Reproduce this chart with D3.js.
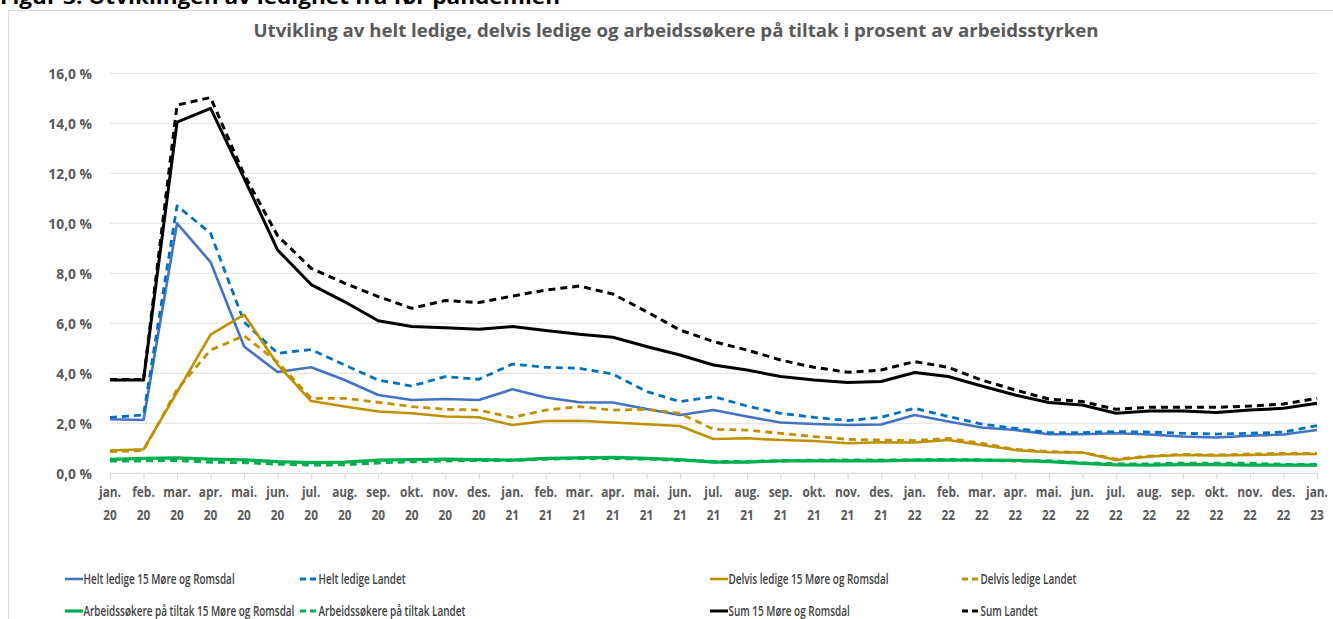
<!DOCTYPE html>
<html><head><meta charset="utf-8">
<script src="https://cdn.jsdelivr.net/npm/d3@7"></script>
<style>
html,body{margin:0;padding:0;background:#fff;overflow:hidden;}
svg{display:block;}
</style></head>
<body>
<svg id="chart" width="1333" height="619"></svg>
<script>
const months = ["jan.","feb.","mar.","apr.","mai.","jun.","jul.","aug.","sep.","okt.","nov.","des.",
"jan.","feb.","mar.","apr.","mai.","jun.","jul.","aug.","sep.","okt.","nov.","des.",
"jan.","feb.","mar.","apr.","mai.","jun.","jul.","aug.","sep.","okt.","nov.","des.","jan."];
const years = ["20","20","20","20","20","20","20","20","20","20","20","20",
"21","21","21","21","21","21","21","21","21","21","21","21",
"22","22","22","22","22","22","22","22","22","22","22","22","23"];

const heltMore    = [2.16,2.13,10.0,8.45,5.07,4.05,4.24,3.73,3.13,2.93,2.97,2.93,3.36,3.03,2.84,2.83,2.57,2.33,2.53,2.27,2.03,1.97,1.93,1.95,2.33,2.07,1.83,1.73,1.56,1.56,1.60,1.55,1.47,1.43,1.50,1.55,1.73];
const heltLandet  = [2.24,2.33,10.7,9.6,6.05,4.8,4.95,4.33,3.73,3.49,3.87,3.76,4.37,4.24,4.20,3.97,3.27,2.87,3.07,2.69,2.40,2.24,2.11,2.24,2.60,2.27,1.97,1.80,1.63,1.63,1.67,1.65,1.60,1.57,1.60,1.65,1.91];
const delvisMore  = [0.91,0.96,3.25,5.55,6.35,4.35,2.89,2.67,2.47,2.40,2.27,2.24,1.93,2.09,2.10,2.03,1.96,1.89,1.37,1.40,1.33,1.29,1.20,1.24,1.23,1.33,1.13,0.93,0.84,0.83,0.53,0.67,0.73,0.71,0.73,0.76,0.77];
const delvisLandet= [0.87,0.91,3.35,4.93,5.5,4.45,3.0,3.0,2.84,2.67,2.56,2.53,2.23,2.53,2.67,2.53,2.56,2.40,1.76,1.73,1.60,1.47,1.36,1.33,1.31,1.40,1.20,0.96,0.87,0.83,0.57,0.69,0.76,0.73,0.77,0.80,0.80];
const arbMore     = [0.56,0.60,0.62,0.57,0.54,0.47,0.43,0.45,0.53,0.55,0.57,0.55,0.53,0.60,0.62,0.64,0.60,0.55,0.45,0.45,0.50,0.50,0.50,0.50,0.53,0.53,0.53,0.52,0.47,0.40,0.34,0.33,0.35,0.35,0.33,0.33,0.33];
const arbLandet   = [0.50,0.50,0.52,0.45,0.43,0.37,0.33,0.35,0.42,0.47,0.50,0.52,0.52,0.57,0.60,0.60,0.57,0.52,0.47,0.47,0.50,0.52,0.53,0.53,0.53,0.55,0.53,0.50,0.50,0.42,0.37,0.37,0.40,0.40,0.40,0.35,0.35];
const sumMore     = [3.73,3.73,14.05,14.6,11.8,8.93,7.55,6.86,6.10,5.87,5.82,5.76,5.87,5.71,5.56,5.44,5.07,4.73,4.33,4.13,3.87,3.73,3.63,3.67,4.03,3.87,3.49,3.13,2.83,2.73,2.40,2.49,2.49,2.43,2.53,2.60,2.80];
const sumLandet   = [3.75,3.75,14.73,15.03,11.95,9.5,8.2,7.6,7.07,6.60,6.91,6.83,7.09,7.33,7.49,7.17,6.47,5.73,5.27,4.93,4.53,4.24,4.04,4.13,4.47,4.24,3.73,3.33,2.97,2.87,2.56,2.64,2.64,2.64,2.69,2.77,3.00];

const yTicks = [0,2,4,6,8,10,12,14,16];

const series = [
  {name:"Helt ledige 15 Møre og Romsdal", values:heltMore, color:"#4472C4", dash:null, w:2.6},
  {name:"Helt ledige Landet", values:heltLandet, color:"#0070C0", dash:"7,5", w:2.8},
  {name:"Delvis ledige 15 Møre og Romsdal", values:delvisMore, color:"#BF9000", dash:null, w:2.6},
  {name:"Delvis ledige Landet", values:delvisLandet, color:"#BF9000", dash:"7,5", w:2.8},
  {name:"Arbeidssøkere på tiltak 15 Møre og Romsdal", values:arbMore, color:"#00B050", dash:null, w:3.2},
  {name:"Arbeidssøkere på tiltak Landet", values:arbLandet, color:"#00B050", dash:"7,5", w:3.2},
  {name:"Sum 15 Møre og Romsdal", values:sumMore, color:"#000000", dash:null, w:3.0},
  {name:"Sum Landet", values:sumLandet, color:"#000000", dash:"7,5", w:3.0}
];

const svg = d3.select("#chart");
const FONT = "'Open Sans', 'Liberation Sans', sans-serif";

// condense text horizontally to mimic a narrow font
function condense(sel, k){
  sel.each(function(){
    const L = this.getComputedTextLength();
    d3.select(this).attr("textLength", L*k).attr("lengthAdjust","spacingAndGlyphs");
  });
}

// chart border
svg.append("rect").attr("x",8.5).attr("y",10.5).attr("width",1340).attr("height",640)
  .attr("fill","none").attr("stroke","#d9d9d9").attr("stroke-width",1);

// figure heading (partly cut off at top)
svg.append("text").attr("x",0).attr("y",4).text("Figur 3: Utviklingen av ledighet fra før pandemien")
  .attr("font-family",FONT).attr("font-weight","bold").attr("font-size",19).attr("fill","#000")
  .attr("textLength",560).attr("lengthAdjust","spacingAndGlyphs");

// title
svg.append("text").attr("x",676).attr("y",37).attr("text-anchor","middle")
  .text("Utvikling av helt ledige, delvis ledige og arbeidssøkere på tiltak i prosent av arbeidsstyrken")
  .attr("font-family",FONT).attr("font-weight","bold").attr("font-size",17).attr("fill","#595959")
  .attr("textLength",845).attr("lengthAdjust","spacingAndGlyphs");

const x = d3.scalePoint().domain(d3.range(months.length)).range([110,1317]);
const y = d3.scaleLinear().domain([0,16]).range([473.3,73.3]);

// gridlines
svg.append("g").selectAll("line").data(yTicks.filter(d=>d>0)).join("line")
  .attr("x1",110).attr("x2",1317).attr("y1",d=>y(d)).attr("y2",d=>y(d))
  .attr("stroke","#e6e6e6").attr("stroke-width",1.2);

// y axis labels
const yAxis = d3.axisLeft(y).tickValues(yTicks).tickSize(0).tickPadding(0)
  .tickFormat(d=>d3.format(".1f")(d).replace(".",",")+" %");
const gy = svg.append("g").attr("transform","translate(92,0)").call(yAxis);
gy.select(".domain").remove();
gy.selectAll("text").attr("font-family",FONT).attr("font-weight","bold").attr("font-size",15)
  .attr("fill","#595959").attr("dy","0.35em");
condense(gy.selectAll("text"), 0.92);

// x axis
const xAxis = d3.axisBottom(x).tickSize(6).tickFormat("");
const gx = svg.append("g").attr("transform",`translate(0,${y(0)})`).call(xAxis);
gx.select(".domain").attr("stroke","#d9d9d9").attr("stroke-width",1.2).attr("d","M110,0H1317");
gx.selectAll(".tick line").attr("stroke","#d9d9d9").attr("stroke-width",1.2);
const xl = svg.append("g");
xl.selectAll("text.m").data(months).join("text").attr("class","m")
  .attr("x",(d,i)=>x(i)).attr("y",497).attr("text-anchor","middle").text(d=>d)
  .attr("font-family",FONT).attr("font-weight","bold").attr("font-size",13.5).attr("fill","#595959");
xl.selectAll("text.yr").data(years).join("text").attr("class","yr")
  .attr("x",(d,i)=>x(i)).attr("y",520).attr("text-anchor","middle").text(d=>d)
  .attr("font-family",FONT).attr("font-weight","bold").attr("font-size",13.5).attr("fill","#595959");
condense(xl.selectAll("text"), 0.88);

// lines
const line = d3.line().x((d,i)=>x(i)).y(d=>y(d)).curve(d3.curveLinear);
svg.append("g").selectAll("path").data(series).join("path")
  .attr("d",d=>line(d.values)).attr("fill","none")
  .attr("stroke",d=>d.color).attr("stroke-width",d=>d.w)
  .attr("stroke-dasharray",d=>d.dash).attr("stroke-linejoin","round");

// legend
const legX = [65,300,710,962];
const legY = [579,611];
const lg = svg.append("g");
series.forEach((s,i)=>{
  const col = i%4, row = Math.floor(i/4);
  const gx0 = legX[col], gy0 = legY[row];
  const g = lg.append("g");
  g.append("line").attr("x1",gx0).attr("x2",gx0+18).attr("y1",gy0).attr("y2",gy0)
    .attr("stroke",s.color).attr("stroke-width",s.w)
    .attr("stroke-dasharray",s.dash?"6,4":null);
  const t = g.append("text").attr("x",gx0+18.5).attr("y",gy0).attr("dy","0.35em").text(s.name)
    .attr("font-family",FONT).attr("font-size",14).attr("font-weight",600).attr("fill","#404040");
  condense(t, 0.71);
});
</script>
</body></html>
